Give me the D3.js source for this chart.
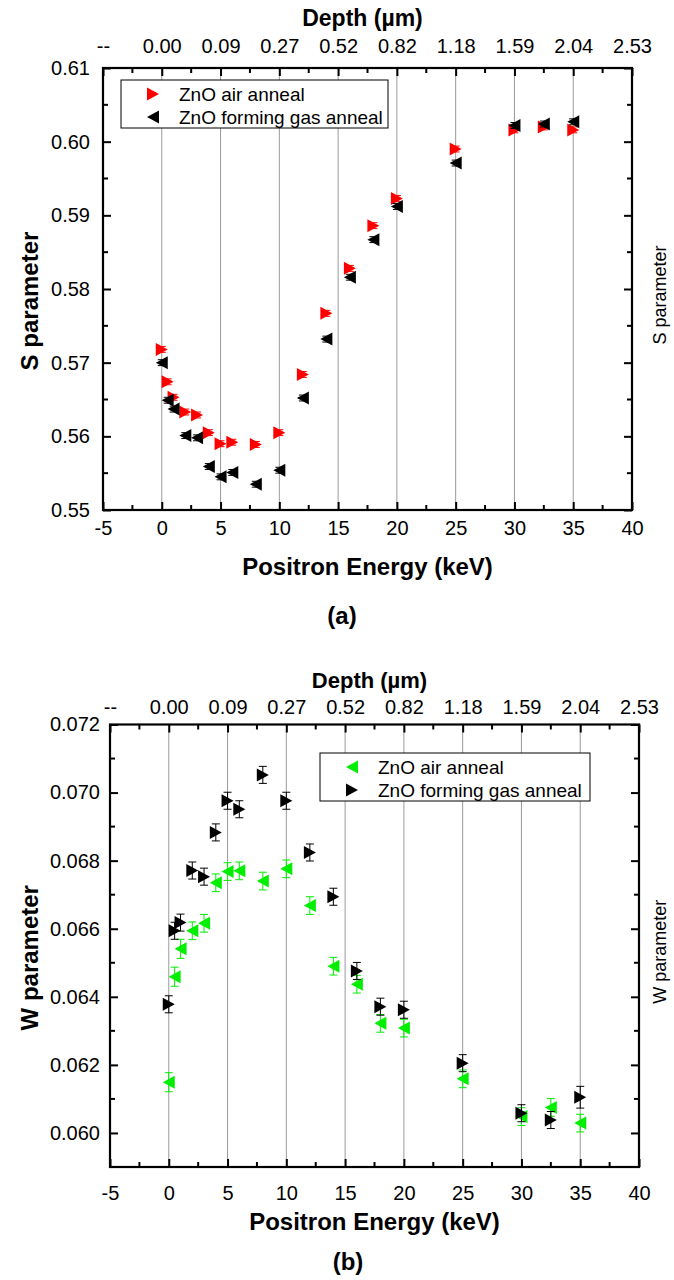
<!DOCTYPE html>
<html><head><meta charset="utf-8">
<script src="https://cdn.jsdelivr.net/npm/d3@7"></script>
<style>
html,body{margin:0;padding:0;background:#fff;}
svg text{font-family:"Liberation Sans",Arial,sans-serif;}
</style></head>
<body>
<svg id="chart" width="674" height="1280"></svg>
<script>
// ---------- DATA ----------
const energy = [0, 0.5, 1, 2, 3, 4, 5, 6, 8, 10, 12, 14, 16, 18, 20, 25, 30, 32.5, 35];
const sAir     = [0.5718,0.5674,0.5653,0.5633,0.5629,0.5605,0.5590,0.5592,0.5589,0.5605,0.5684,0.5767,0.5828,0.5886,0.5923,0.5990,0.6016,0.6020,0.6016];
const sForming = [0.5700,0.5649,0.5637,0.5601,0.5598,0.5559,0.5545,0.5551,0.5535,0.5554,0.5652,0.5732,0.5816,0.5867,0.5912,0.5971,0.6022,0.6024,0.6027];
const sErr     = [0.0004,0.0004,0.0004,0.0004,0.0004,0.0004,0.0004,0.0004,0.0004,0.0004,0.0004,0.0004,0.0004,0.0004,0.0004,0.0004,0.0004,0.0004,0.0004];
const wAir     = [0.06149,0.06459,0.06541,0.06594,0.06616,0.06735,0.06768,0.06770,0.06740,0.06776,0.06668,0.06490,0.06437,0.06322,0.06308,0.06159,0.06048,0.06075,0.06029];
const wForming = [0.06378,0.06594,0.06618,0.06771,0.06753,0.06883,0.06976,0.06951,0.07052,0.06976,0.06824,0.06694,0.06476,0.06371,0.06362,0.06205,0.06058,0.06038,0.06105];
const wAirErr     = [0.00028,0.00028,0.00028,0.00026,0.00026,0.00026,0.00026,0.00026,0.00026,0.00026,0.00026,0.00026,0.00026,0.00026,0.00026,0.00026,0.00026,0.00026,0.00026];
const wFormingErr = [0.00025,0.00025,0.00025,0.00025,0.00025,0.00025,0.00025,0.00025,0.00025,0.00025,0.00025,0.00025,0.00025,0.00025,0.00025,0.00025,0.00025,0.00025,0.00032];
const xTicks = [-5, 0, 5, 10, 15, 20, 25, 30, 35, 40];
const depthLabels = ["--","0.00","0.09","0.27","0.52","0.82","1.18","1.59","2.04","2.53"];
const sTicks = [0.55, 0.56, 0.57, 0.58, 0.59, 0.60, 0.61];
const wTicks = [0.060, 0.062, 0.064, 0.066, 0.068, 0.070, 0.072];
const legendLabels = ["ZnO air anneal", "ZnO forming gas anneal"];

const svg = d3.select("#chart");

function triPath(dir, w, h) {
  const p = d3.path();
  p.moveTo(-dir * w / 2, -h / 2);
  p.lineTo(dir * w / 2, 0);
  p.lineTo(-dir * w / 2, h / 2);
  p.closePath();
  return p.toString();
}

function panel(cfg) {
  const g = svg.append("g");
  const x = d3.scaleLinear().domain([-5, 40]).range([cfg.left, cfg.right]);
  const y = d3.scaleLinear().domain(cfg.yDomain).range([cfg.bottom, cfg.top]);

  g.append("g").selectAll("line").data(xTicks.filter(d => d > -5 && d < 40)).join("line")
    .attr("x1", d => x(d)).attr("x2", d => x(d))
    .attr("y1", cfg.top).attr("y2", cfg.bottom)
    .attr("stroke", "#9a9a9a").attr("stroke-width", 1);

  const xMinor = d3.range(-2.5, 40, 5);

  const axB = d3.axisBottom(x).tickValues(xTicks).tickSize(-8).tickFormat(d => d).tickPadding(cfg.padB);
  const axT = d3.axisTop(x).tickValues(xTicks).tickSize(-8).tickFormat((d, i) => depthLabels[i]).tickPadding(cfg.padT);
  const axL = d3.axisLeft(y).tickValues(cfg.yTicks).tickSize(-8).tickFormat(cfg.yFmt).tickPadding(cfg.padL);
  const axR = d3.axisRight(y).tickValues(cfg.yTicks).tickSize(-8).tickFormat("");

  const gb = g.append("g").attr("transform", `translate(0,${cfg.bottom})`).call(axB);
  const gt = g.append("g").attr("transform", `translate(0,${cfg.top})`).call(axT);
  const gl = g.append("g").attr("transform", `translate(${cfg.left},0)`).call(axL);
  const gr = g.append("g").attr("transform", `translate(${cfg.right},0)`).call(axR);
  [gb, gt, gl, gr].forEach(a => {
    a.select(".domain").remove();
    a.selectAll(".tick line").attr("stroke", "#000").attr("stroke-width", 2);
    a.selectAll(".tick text").attr("fill", "#000").attr("font-size", 20)
      .attr("font-family", "Liberation Sans, Arial, sans-serif");
  });
  const mg = g.append("g").attr("stroke", "#000").attr("stroke-width", 2);
  xMinor.forEach(v => {
    mg.append("line").attr("x1", x(v)).attr("x2", x(v)).attr("y1", cfg.bottom).attr("y2", cfg.bottom - 5);
    mg.append("line").attr("x1", x(v)).attr("x2", x(v)).attr("y1", cfg.top).attr("y2", cfg.top + 5);
  });
  cfg.yMinor.forEach(v => {
    mg.append("line").attr("x1", cfg.left).attr("x2", cfg.left + 5).attr("y1", y(v)).attr("y2", y(v));
    mg.append("line").attr("x1", cfg.right).attr("x2", cfg.right - 5).attr("y1", y(v)).attr("y2", y(v));
  });

  g.append("rect").attr("x", cfg.left).attr("y", cfg.top)
    .attr("width", cfg.right - cfg.left).attr("height", cfg.bottom - cfg.top)
    .attr("fill", "none").attr("stroke", "#000").attr("stroke-width", 2.2);

  const lg = g.append("g");
  lg.append("rect").attr("x", cfg.leg.x).attr("y", cfg.leg.y).attr("width", cfg.leg.w).attr("height", cfg.leg.h)
    .attr("fill", "#fff").attr("stroke", "#000").attr("stroke-width", 1);

  cfg.series.forEach((s, si) => {
    const sg = g.append("g");
    energy.forEach((e, i) => {
      const cx = x(e), v = s.values[i], er = s.err[i];
      sg.append("line").attr("x1", cx).attr("x2", cx).attr("y1", y(v - er)).attr("y2", y(v + er))
        .attr("stroke", s.color).attr("stroke-width", 1);
      [v - er, v + er].forEach(t => sg.append("line").attr("x1", cx - 4).attr("x2", cx + 4)
        .attr("y1", y(t)).attr("y2", y(t)).attr("stroke", s.color).attr("stroke-width", 1));
      sg.append("path").attr("d", triPath(s.dir, 12, 13)).attr("transform", `translate(${cx},${y(v)})`)
        .attr("fill", s.color);
    });
    const ly = cfg.leg.y + 14 + si * 23;
    lg.append("path").attr("d", triPath(s.dir, 12, 13)).attr("transform", `translate(${cfg.leg.x + 32},${ly})`).attr("fill", s.color);
    lg.append("text").attr("x", cfg.leg.x + 58).attr("y", ly).attr("dy", "0.35em")
      .attr("font-size", 19).attr("fill", "#000").text(legendLabels[si]);
  });

  const cxp = (cfg.left + cfg.right) / 2;
  g.append("text").attr("x", cxp - 5).attr("y", cfg.depthY).attr("dy", "0.35em").attr("text-anchor", "middle")
    .attr("font-weight", "bold").attr("font-size", cfg.depthSize).text("Depth (µm)");
  g.append("text").attr("x", cxp).attr("y", cfg.titleY).attr("dy", "0.35em").attr("text-anchor", "middle")
    .attr("font-weight", "bold").attr("font-size", 24).text("Positron Energy (keV)");
  g.append("text").attr("transform", `translate(${cfg.ylabX},${(cfg.top + cfg.bottom) / 2 + 12}) rotate(-90)`)
    .attr("dy", "0.35em").attr("text-anchor", "middle")
    .attr("font-weight", "bold").attr("font-size", 24).text(cfg.yTitle);
  g.append("text").attr("transform", `translate(660,${(cfg.top + cfg.bottom) / 2 + 6}) rotate(-90)`)
    .attr("dy", "0.35em").attr("text-anchor", "middle")
    .attr("font-size", 18).text(cfg.yTitle);
  g.append("text").attr("x", cfg.capX).attr("y", cfg.capY).attr("dy", "0.35em").attr("text-anchor", "middle")
    .attr("font-weight", "bold").attr("font-size", 24).text(cfg.caption);
}

panel({
  left: 103, right: 632, top: 68, bottom: 510,
  yDomain: [0.55, 0.61], yTicks: sTicks, yFmt: d3.format(".2f"),
  yMinor: [0.555, 0.565, 0.575, 0.585, 0.595, 0.605],
  yTitle: "S parameter", ylabX: 30,
  padB: 11, padT: 15, padL: 13,
  depthY: 18, depthSize: 23, titleY: 567,
  caption: "(a)", capX: 342, capY: 616,
  leg: {x: 121, y: 80, w: 267, h: 48},
  series: [
    {values: sAir, err: sErr, color: "#ff0000", dir: 1},
    {values: sForming, err: sErr, color: "#000000", dir: -1}
  ]
});

panel({
  left: 110, right: 639, top: 724.5, bottom: 1167,
  yDomain: [0.059, 0.072], yTicks: wTicks, yFmt: d3.format(".3f"),
  yMinor: [0.059, 0.061, 0.063, 0.065, 0.067, 0.069, 0.071],
  yTitle: "W parameter", ylabX: 30,
  padB: 19, padT: 11, padL: 10,
  depthY: 680, depthSize: 22, titleY: 1222,
  caption: "(b)", capX: 348, capY: 1262,
  leg: {x: 320, y: 753, w: 270, h: 48},
  series: [
    {values: wAir, err: wAirErr, color: "#00ee00", dir: -1},
    {values: wForming, err: wFormingErr, color: "#000000", dir: 1}
  ]
});
</script>
</body></html>
